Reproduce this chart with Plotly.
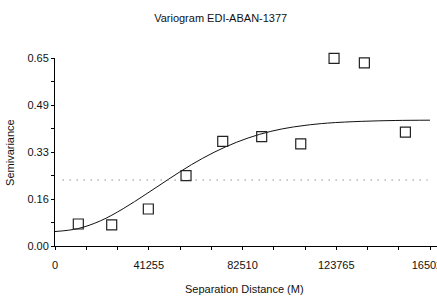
import plotly.graph_objects as go

# Experimental variogram points
lag_dist = [10260, 24950, 41070, 57660, 73810, 90960, 108140, 122800, 136140, 154200]
semivar = [0.076, 0.073, 0.128, 0.243, 0.362, 0.378, 0.353, 0.649, 0.633, 0.394]

# Fitted model curve
model_dist = [0, 10000, 20000, 30000, 40000, 50000, 60000, 70000, 80000, 90000,
              100000, 110000, 120000, 135000, 150000, 165020]
model_val = [0.050, 0.060, 0.087, 0.129, 0.179, 0.231, 0.281, 0.324, 0.359, 0.386,
             0.405, 0.417, 0.425, 0.431, 0.434, 0.435]

sample_variance = 0.228

x_tickvals = [0, 41255, 82510, 123765, 165020]
x_ticktext = ["0", "41255", "82510", "123765", "165020"]
y_tickvals = [0, 0.1625, 0.325, 0.4875, 0.65]
y_ticktext = ["0.00", "0.16", "0.33", "0.49", "0.65"]

font_family = "Liberation Sans, Arial, sans-serif"

fig = go.Figure()
fig.add_trace(go.Scatter(x=model_dist, y=model_val, mode="lines",
                         line=dict(color="#111111", width=1, shape="spline"),
                         hoverinfo="skip"))
fig.add_trace(go.Scatter(x=lag_dist, y=semivar, mode="markers",
                         marker=dict(symbol="square-open", size=10, color="#222222",
                                     line=dict(width=1.2, color="#222222")),
                         cliponaxis=False))

fig.add_shape(type="line", xref="x domain", yref="y", x0=0.02, x1=0.975,
              y0=sample_variance, y1=sample_variance,
              line=dict(color="#555555", width=1, dash="1px,6px"))

fig.add_annotation(text="Separation Distance (M)", xref="x domain", yref="paper",
                   x=0.497, y=-0.23, xanchor="center", yanchor="middle",
                   showarrow=False, font=dict(size=11))
fig.add_annotation(text="Semivariance", xref="paper", yref="y domain",
                   x=-0.118, y=0.5, xanchor="center", yanchor="middle",
                   textangle=-90, showarrow=False, font=dict(size=11))

fig.update_layout(
    width=437, height=296,
    margin=dict(l=55, r=0, t=58, b=50, autoexpand=False),
    paper_bgcolor="white", plot_bgcolor="white",
    showlegend=False,
    font=dict(family=font_family, size=11, color="#111111"),
    title=dict(text="Variogram EDI-ABAN-1377", x=0.505, xanchor="center",
               y=0.94, yanchor="middle", font=dict(size=11)),
    xaxis=dict(range=[0, 168100], tickvals=x_tickvals, ticktext=x_ticktext,
               automargin=False, ticklabeloverflow="allow", ticklabelstandoff=6,
               showgrid=False, zeroline=False, showline=True, linecolor="black",
               linewidth=1, ticks="outside", ticklen=3, tickcolor="black",
               minor=dict(dtick=13751.67, tick0=0, ticks="outside", ticklen=3,
                          tickcolor="black", showgrid=False),
               tickfont=dict(size=11)),
    yaxis=dict(range=[0, 0.65], tickvals=y_tickvals, ticktext=y_ticktext,
               automargin=False,
               showgrid=False, zeroline=False, showline=True, linecolor="black",
               linewidth=1, ticks="outside", ticklen=3, tickcolor="black",
               minor=dict(dtick=0.08125, tick0=0, ticks="outside", ticklen=3,
                          tickcolor="black", showgrid=False),
               tickfont=dict(size=11)),
)

fig.write_html("out.html", config={"displayModeBar": False},
               post_script="document.body.style.margin='0';document.body.style.overflow='hidden';")
